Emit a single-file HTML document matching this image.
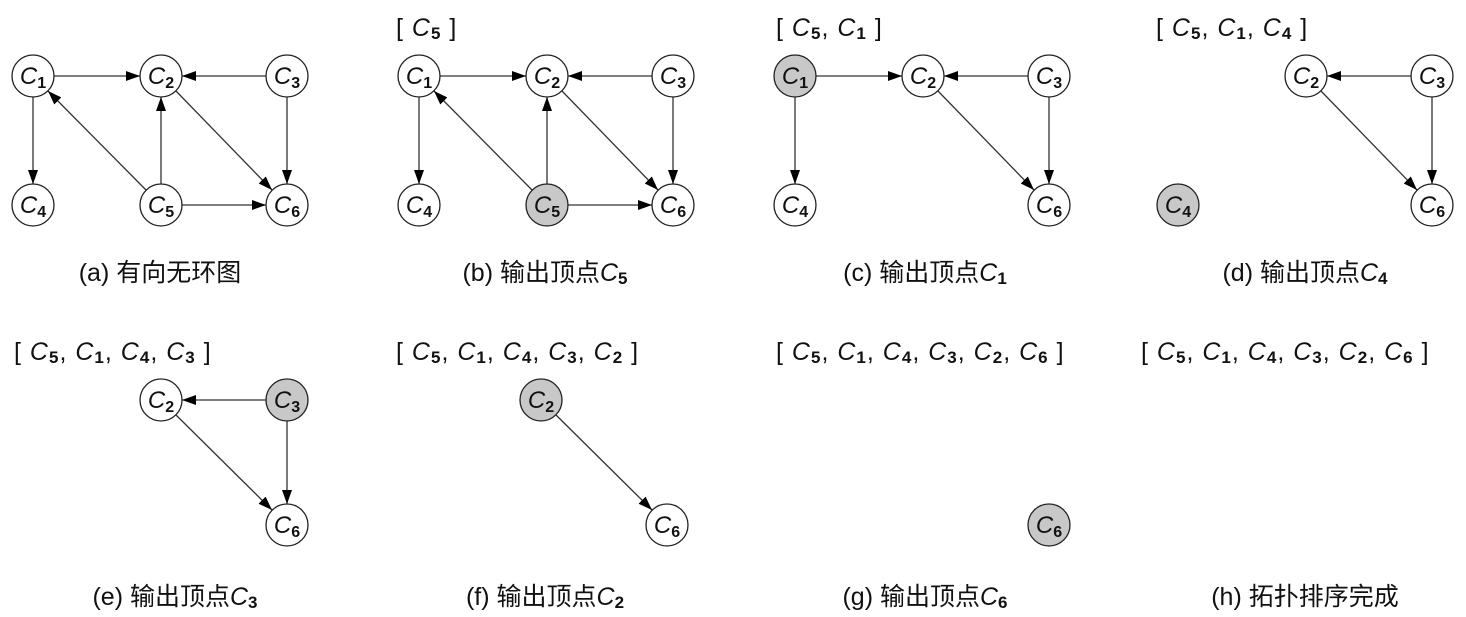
<!DOCTYPE html>
<html><head><meta charset="utf-8"><style>
body{margin:0;background:#fff}
svg{display:block}
text{font-family:"Liberation Sans","Noto Sans CJK SC",sans-serif;fill:#111}
.n circle{fill:#fff;stroke:#222;stroke-width:1.3}
.n.g circle{fill:#c8c8c8}
.n text{font-size:24px;font-style:italic;text-anchor:middle}
.n tspan{font-size:16px;font-style:normal;font-weight:bold}
line{stroke:#333;stroke-width:1.3;marker-end:url(#a)}
.cap{font-size:25px;text-anchor:middle}
.cap tspan.s{font-size:17px;font-weight:bold}
.br{font-size:25px;letter-spacing:1px}
.br tspan.s{font-size:17px;font-weight:bold}
</style></head><body>
<svg width="1466" height="617" viewBox="0 0 1466 617">
<defs><marker id="a" viewBox="0 0 14 10" refX="14" refY="5" markerWidth="14" markerHeight="10" markerUnits="userSpaceOnUse" orient="auto"><path d="M0,0L14,5L0,10z" fill="#000"/></marker></defs>

<!-- (a) -->
<g>
<line x1="54" y1="76" x2="140" y2="76"/>
<line x1="266" y1="76" x2="182" y2="76"/>
<line x1="33" y1="97" x2="33" y2="184"/>
<line x1="146" y1="190" x2="48" y2="91"/>
<line x1="161" y1="184" x2="161" y2="97"/>
<line x1="176" y1="91" x2="272" y2="190"/>
<line x1="287" y1="97" x2="287" y2="184"/>
<line x1="182" y1="205" x2="266" y2="205"/>
<g class="n"><circle cx="33" cy="76" r="21"/><text x="33" y="84">C<tspan dy="4">1</tspan></text></g>
<g class="n"><circle cx="161" cy="76" r="21"/><text x="161" y="84">C<tspan dy="4">2</tspan></text></g>
<g class="n"><circle cx="287" cy="76" r="21"/><text x="287" y="84">C<tspan dy="4">3</tspan></text></g>
<g class="n"><circle cx="33" cy="205" r="21"/><text x="33" y="213">C<tspan dy="4">4</tspan></text></g>
<g class="n"><circle cx="161" cy="205" r="21"/><text x="161" y="213">C<tspan dy="4">5</tspan></text></g>
<g class="n"><circle cx="287" cy="205" r="21"/><text x="287" y="213">C<tspan dy="4">6</tspan></text></g>
<text class="cap" x="160" y="281">(a) 有向无环图</text>
</g>

<!-- (b) -->
<g transform="translate(386,0)">
<line x1="54" y1="76" x2="140" y2="76"/>
<line x1="266" y1="76" x2="182" y2="76"/>
<line x1="33" y1="97" x2="33" y2="184"/>
<line x1="146" y1="190" x2="48" y2="91"/>
<line x1="161" y1="184" x2="161" y2="97"/>
<line x1="176" y1="91" x2="272" y2="190"/>
<line x1="287" y1="97" x2="287" y2="184"/>
<line x1="182" y1="205" x2="266" y2="205"/>
<g class="n"><circle cx="33" cy="76" r="21"/><text x="33" y="84">C<tspan dy="4">1</tspan></text></g>
<g class="n"><circle cx="161" cy="76" r="21"/><text x="161" y="84">C<tspan dy="4">2</tspan></text></g>
<g class="n"><circle cx="287" cy="76" r="21"/><text x="287" y="84">C<tspan dy="4">3</tspan></text></g>
<g class="n"><circle cx="33" cy="205" r="21"/><text x="33" y="213">C<tspan dy="4">4</tspan></text></g>
<g class="n g"><circle cx="161" cy="205" r="21"/><text x="161" y="213">C<tspan dy="4">5</tspan></text></g>
<g class="n"><circle cx="287" cy="205" r="21"/><text x="287" y="213">C<tspan dy="4">6</tspan></text></g>
<text class="br" x="10" y="36">[ <tspan font-style="italic">C</tspan><tspan class="s" dy="3">5</tspan><tspan dy="-3"> ]</tspan></text>
<text class="cap" x="159" y="281">(b) 输出顶点<tspan font-style="italic">C</tspan><tspan class="s" dy="3">5</tspan></text>
</g>

<!-- (c) -->
<g transform="translate(762,0)">
<line x1="54" y1="76" x2="140" y2="76"/>
<line x1="266" y1="76" x2="182" y2="76"/>
<line x1="33" y1="97" x2="33" y2="184"/>
<line x1="176" y1="91" x2="272" y2="190"/>
<line x1="287" y1="97" x2="287" y2="184"/>
<g class="n g"><circle cx="33" cy="76" r="21"/><text x="33" y="84">C<tspan dy="4">1</tspan></text></g>
<g class="n"><circle cx="161" cy="76" r="21"/><text x="161" y="84">C<tspan dy="4">2</tspan></text></g>
<g class="n"><circle cx="287" cy="76" r="21"/><text x="287" y="84">C<tspan dy="4">3</tspan></text></g>
<g class="n"><circle cx="33" cy="205" r="21"/><text x="33" y="213">C<tspan dy="4">4</tspan></text></g>
<g class="n"><circle cx="287" cy="205" r="21"/><text x="287" y="213">C<tspan dy="4">6</tspan></text></g>
<text class="br" x="14" y="36">[ <tspan font-style="italic">C</tspan><tspan class="s" dy="3">5</tspan><tspan dy="-3">, </tspan><tspan font-style="italic">C</tspan><tspan class="s" dy="3">1</tspan><tspan dy="-3"> ]</tspan></text>
<text class="cap" x="163" y="281">(c) 输出顶点<tspan font-style="italic">C</tspan><tspan class="s" dy="3">1</tspan></text>
</g>

<!-- (d) -->
<g transform="translate(1145,0)">
<line x1="266" y1="76" x2="182" y2="76"/>
<line x1="176" y1="91" x2="272" y2="190"/>
<line x1="287" y1="97" x2="287" y2="184"/>
<g class="n"><circle cx="161" cy="76" r="21"/><text x="161" y="84">C<tspan dy="4">2</tspan></text></g>
<g class="n"><circle cx="287" cy="76" r="21"/><text x="287" y="84">C<tspan dy="4">3</tspan></text></g>
<g class="n g"><circle cx="33" cy="205" r="21"/><text x="33" y="213">C<tspan dy="4">4</tspan></text></g>
<g class="n"><circle cx="287" cy="205" r="21"/><text x="287" y="213">C<tspan dy="4">6</tspan></text></g>
<text class="br" x="11" y="36">[ <tspan font-style="italic">C</tspan><tspan class="s" dy="3">5</tspan><tspan dy="-3">, </tspan><tspan font-style="italic">C</tspan><tspan class="s" dy="3">1</tspan><tspan dy="-3">, </tspan><tspan font-style="italic">C</tspan><tspan class="s" dy="3">4</tspan><tspan dy="-3"> ]</tspan></text>
<text class="cap" x="160" y="281">(d) 输出顶点<tspan font-style="italic">C</tspan><tspan class="s" dy="3">4</tspan></text>
</g>

<!-- (e) -->
<g transform="translate(0,324)">
<line x1="266" y1="76" x2="182" y2="76"/>
<line x1="176" y1="91" x2="272" y2="186"/>
<line x1="287" y1="97" x2="287" y2="180"/>
<g class="n"><circle cx="161" cy="76" r="21"/><text x="161" y="84">C<tspan dy="4">2</tspan></text></g>
<g class="n g"><circle cx="287" cy="76" r="21"/><text x="287" y="84">C<tspan dy="4">3</tspan></text></g>
<g class="n"><circle cx="287" cy="201" r="21"/><text x="287" y="209">C<tspan dy="4">6</tspan></text></g>
<text class="br" x="14" y="36">[ <tspan font-style="italic">C</tspan><tspan class="s" dy="3">5</tspan><tspan dy="-3">, </tspan><tspan font-style="italic">C</tspan><tspan class="s" dy="3">1</tspan><tspan dy="-3">, </tspan><tspan font-style="italic">C</tspan><tspan class="s" dy="3">4</tspan><tspan dy="-3">, </tspan><tspan font-style="italic">C</tspan><tspan class="s" dy="3">3</tspan><tspan dy="-3"> ]</tspan></text>
<text class="cap" x="175" y="281">(e) 输出顶点<tspan font-style="italic">C</tspan><tspan class="s" dy="3">3</tspan></text>
</g>

<!-- (f) -->
<g transform="translate(380,324)">
<line x1="176" y1="91" x2="272" y2="186"/>
<g class="n g"><circle cx="161" cy="76" r="21"/><text x="161" y="84">C<tspan dy="4">2</tspan></text></g>
<g class="n"><circle cx="287" cy="201" r="21"/><text x="287" y="209">C<tspan dy="4">6</tspan></text></g>
<text class="br" x="16" y="36">[ <tspan font-style="italic">C</tspan><tspan class="s" dy="3">5</tspan><tspan dy="-3">, </tspan><tspan font-style="italic">C</tspan><tspan class="s" dy="3">1</tspan><tspan dy="-3">, </tspan><tspan font-style="italic">C</tspan><tspan class="s" dy="3">4</tspan><tspan dy="-3">, </tspan><tspan font-style="italic">C</tspan><tspan class="s" dy="3">3</tspan><tspan dy="-3">, </tspan><tspan font-style="italic">C</tspan><tspan class="s" dy="3">2</tspan><tspan dy="-3"> ]</tspan></text>
<text class="cap" x="165" y="281">(f) 输出顶点<tspan font-style="italic">C</tspan><tspan class="s" dy="3">2</tspan></text>
</g>

<!-- (g) -->
<g transform="translate(762,324)">
<g class="n g"><circle cx="287" cy="201" r="21"/><text x="287" y="209">C<tspan dy="4">6</tspan></text></g>
<text class="br" x="14" y="36">[ <tspan font-style="italic">C</tspan><tspan class="s" dy="3">5</tspan><tspan dy="-3">, </tspan><tspan font-style="italic">C</tspan><tspan class="s" dy="3">1</tspan><tspan dy="-3">, </tspan><tspan font-style="italic">C</tspan><tspan class="s" dy="3">4</tspan><tspan dy="-3">, </tspan><tspan font-style="italic">C</tspan><tspan class="s" dy="3">3</tspan><tspan dy="-3">, </tspan><tspan font-style="italic">C</tspan><tspan class="s" dy="3">2</tspan><tspan dy="-3">, </tspan><tspan font-style="italic">C</tspan><tspan class="s" dy="3">6</tspan><tspan dy="-3"> ]</tspan></text>
<text class="cap" x="163" y="281">(g) 输出顶点<tspan font-style="italic">C</tspan><tspan class="s" dy="3">6</tspan></text>
</g>

<!-- (h) -->
<g transform="translate(1141,324)">
<text class="br" x="0" y="36">[ <tspan font-style="italic">C</tspan><tspan class="s" dy="3">5</tspan><tspan dy="-3">, </tspan><tspan font-style="italic">C</tspan><tspan class="s" dy="3">1</tspan><tspan dy="-3">, </tspan><tspan font-style="italic">C</tspan><tspan class="s" dy="3">4</tspan><tspan dy="-3">, </tspan><tspan font-style="italic">C</tspan><tspan class="s" dy="3">3</tspan><tspan dy="-3">, </tspan><tspan font-style="italic">C</tspan><tspan class="s" dy="3">2</tspan><tspan dy="-3">, </tspan><tspan font-style="italic">C</tspan><tspan class="s" dy="3">6</tspan><tspan dy="-3"> ]</tspan></text>
<text class="cap" x="164" y="281">(h) 拓扑排序完成</text>
</g>
</svg>
</body></html>
